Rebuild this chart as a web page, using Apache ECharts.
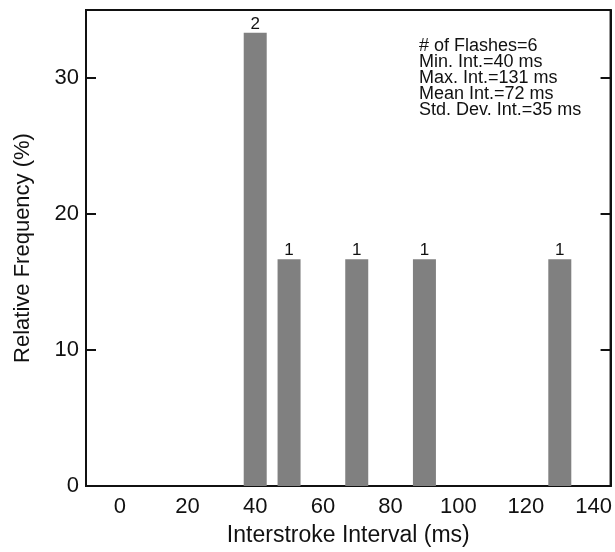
<!DOCTYPE html>
<html>
<head>
<meta charset="utf-8">
<script src="https://cdn.jsdelivr.net/npm/echarts@6/dist/echarts.min.js"></script>
<style>
html, body { margin: 0; padding: 0; background: #fff; }
#main { width: 615px; height: 552px; }
</style>
</head>
<body>
<div id="main"></div>
<script>
// histogram values
var intervals = [40, 50, 70, 90, 130];
var freqPct = [33.33, 16.67, 16.67, 16.67, 16.67];
var counts = [2, 1, 1, 1, 1];
var xTicks = [0, 20, 40, 60, 80, 100, 120, 140];
var yTicks = [0, 10, 20, 30];
var statLines = [
  '# of Flashes=6',
  'Min. Int.=40 ms',
  'Max. Int.=131 ms',
  'Mean Int.=72 ms',
  'Std. Dev. Int.=35 ms'
];

window.onload = function () {
  var chart = echarts.init(document.getElementById('main'));
  var font = 'Liberation Sans, Arial, Helvetica, sans-serif';

  var barData = [];
  for (var i = 0; i < intervals.length; i++) {
    barData.push({ value: [intervals[i], freqPct[i]], label: { formatter: String(counts[i]) } });
  }

  var yTickStyle = { show: true, inside: true, length: 10, customValues: yTicks, lineStyle: { color: '#111', width: 2 } };

  var option = {
    animation: false,
    backgroundColor: '#fff',
    grid: {
      left: 86, right: 2, top: 10, bottom: 61,
      show: true, borderColor: '#111', borderWidth: 2, backgroundColor: 'transparent'
    },
    xAxis: {
      type: 'value', min: -10, max: 145,
      name: 'Interstroke Interval (ms)', nameLocation: 'middle', nameGap: 38,
      nameTextStyle: { fontSize: 23, color: '#111', fontFamily: font },
      axisLine: { show: true, onZero: false, lineStyle: { color: '#111', width: 2 } },
      axisTick: { show: false },
      splitLine: { show: false },
      axisLabel: { fontSize: 22, color: '#111', fontFamily: font, margin: 10, customValues: xTicks }
    },
    yAxis: [{
      type: 'value', min: 0, max: 35, position: 'left',
      name: 'Relative Frequency (%)', nameLocation: 'middle', nameGap: 52,
      nameTextStyle: { fontSize: 22, color: '#111', fontFamily: font },
      axisLine: { show: true, onZero: false, lineStyle: { color: '#111', width: 2 } },
      axisTick: yTickStyle,
      splitLine: { show: false },
      axisLabel: { fontSize: 22, color: '#111', fontFamily: font, margin: 7, customValues: yTicks }
    }, {
      type: 'value', min: 0, max: 35, position: 'right',
      axisLine: { show: true, onZero: false, lineStyle: { color: '#111', width: 2 } },
      axisTick: yTickStyle,
      splitLine: { show: false },
      axisLabel: { show: false }
    }],
    series: [{
      type: 'bar',
      data: barData,
      barWidth: 23,
      itemStyle: { color: '#808080' },
      label: { show: true, position: 'top', distance: 0, fontSize: 17, color: '#111', fontFamily: font }
    }],
    graphic: [{
      type: 'text',
      left: 419, top: 37,
      style: {
        text: statLines.join('\n'),
        fontSize: 18, lineHeight: 16, fill: '#111', fontFamily: font
      }
    }]
  };

  chart.setOption(option);
};
</script>
</body>
</html>
